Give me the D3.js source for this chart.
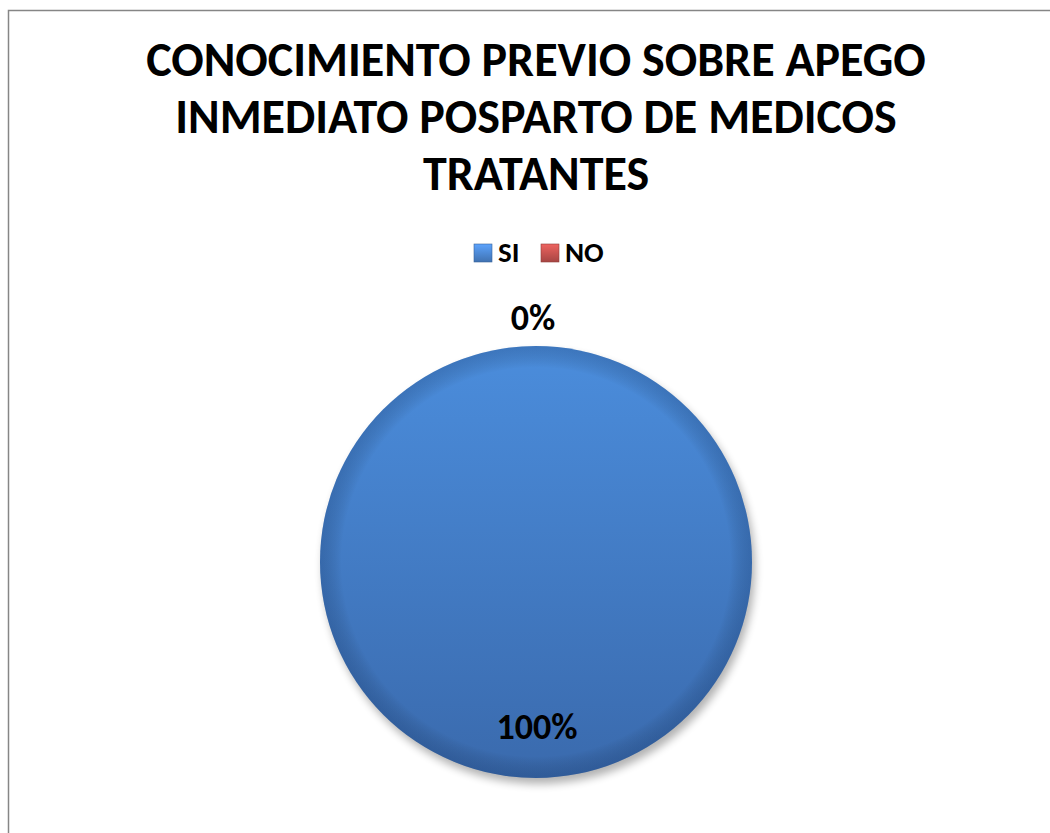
<!DOCTYPE html>
<html>
<head>
<meta charset="utf-8">
<script src="https://cdn.jsdelivr.net/npm/d3@7"></script>
<style>
  body { margin: 0; background: #fff; }
  svg { display: block; font-family: Carlito, "Open Sans", Lato, sans-serif; }
</style>
</head>
<body>
<svg id="chart" width="1050" height="833"></svg>
<script>
const titleLines = ["CONOCIMIENTO PREVIO SOBRE APEGO", "INMEDIATO POSPARTO DE MEDICOS", "TRATANTES"];
const categories = ["SI", "NO"];
const values = [100, 0];
const colors = ["#4a84cc", "#c0504d"];

const svg = d3.select("#chart");
const width = 1050, height = 833;

// chart area frame (only top + left visible in the crop)
svg.append("path")
  .attr("d", `M8.5,${height} L8.5,10.5 L${width},10.5`)
  .attr("fill", "none")
  .attr("stroke", "#868686")
  .attr("stroke-width", 1.5);

const defs = svg.append("defs");

const lin = defs.append("linearGradient")
  .attr("id", "pieFill").attr("x1", 0).attr("y1", 0).attr("x2", 0).attr("y2", 1);
lin.append("stop").attr("offset", "0%").attr("stop-color", "#4b8ddc");
lin.append("stop").attr("offset", "100%").attr("stop-color", "#3a6aad");

const edge = defs.append("radialGradient").attr("id", "pieEdge");
edge.append("stop").attr("offset", "90%").attr("stop-color", "#000").attr("stop-opacity", 0);
edge.append("stop").attr("offset", "100%").attr("stop-color", "#0a2550").attr("stop-opacity", 0.22);

const blur = defs.append("filter").attr("id", "shadow")
  .attr("x", "-20%").attr("y", "-20%").attr("width", "140%").attr("height", "140%");
blur.append("feGaussianBlur").attr("stdDeviation", 4);

// legend swatch gradients
categories.forEach((c, i) => {
  const g = defs.append("linearGradient").attr("id", "sw" + i)
    .attr("x1", 0).attr("y1", 0).attr("x2", 0).attr("y2", 1);
  g.append("stop").attr("offset", "0%").attr("stop-color", d3.color(colors[i]).brighter(0.6));
  g.append("stop").attr("offset", "100%").attr("stop-color", d3.color(colors[i]).darker(0.4));
});

// title
svg.append("g")
  .selectAll("text")
  .data(titleLines)
  .join("text")
  .attr("x", 536)
  .attr("y", (d, i) => 76 + i * 57)
  .attr("text-anchor", "middle")
  .attr("font-size", 48)
  .attr("font-weight", "bold")
  .attr("fill", "#000")
  .text((d) => d);

// legend
const legendX = d3.scalePoint().domain(categories).range([474, 541]);
const leg = svg.append("g")
  .selectAll("g")
  .data(categories)
  .join("g")
  .attr("transform", (d) => `translate(${legendX(d)}, 244)`);
leg.append("rect")
  .attr("width", 18).attr("height", 18)
  .attr("fill", (d, i) => `url(#sw${i})`)
  .attr("stroke", (d, i) => d3.color(colors[i]).darker(0.8))
  .attr("stroke-width", 0.6);
leg.append("text")
  .attr("x", 24).attr("y", 18)
  .attr("font-size", 29)
  .attr("font-weight", "bold")
  .text((d) => d);

// pie
const cx = 536, cy = 562, r = 216;
const pie = d3.pie().sort(null)(values);
const arc = d3.arc().innerRadius(0).outerRadius(r);
const g = svg.append("g").attr("transform", `translate(${cx}, ${cy})`);

g.append("circle")
  .attr("cx", 3).attr("cy", 6).attr("r", r)
  .attr("fill", "#000").attr("opacity", 0.3)
  .attr("filter", "url(#shadow)");

g.selectAll("path.slice")
  .data(pie)
  .join("path")
  .attr("class", "slice")
  .attr("d", arc)
  .attr("fill", (d, i) => i === 0 ? "url(#pieFill)" : colors[i]);

g.append("circle").attr("r", r).attr("fill", "url(#pieEdge)");

// labels (baseline positions)
const total = d3.sum(values);
const inside = d3.arc().innerRadius(r * 1.64).outerRadius(0);
const outside = d3.arc().innerRadius(r + 16).outerRadius(r + 16);
g.selectAll("text.lbl")
  .data(pie)
  .join("text")
  .attr("class", "lbl")
  .attr("transform", (d) => {
    const p = d.value > 0 ? inside.centroid(d) : outside.centroid(d);
    return `translate(${d.value > 0 ? p[0] + 1 : p[0] - 3}, ${p[1]})`;
  })
  .attr("text-anchor", "middle")
  .attr("font-size", 36)
  .attr("font-weight", "bold")
  .text((d) => Math.round(d.value / total * 100) + "%");
</script>
</body>
</html>
